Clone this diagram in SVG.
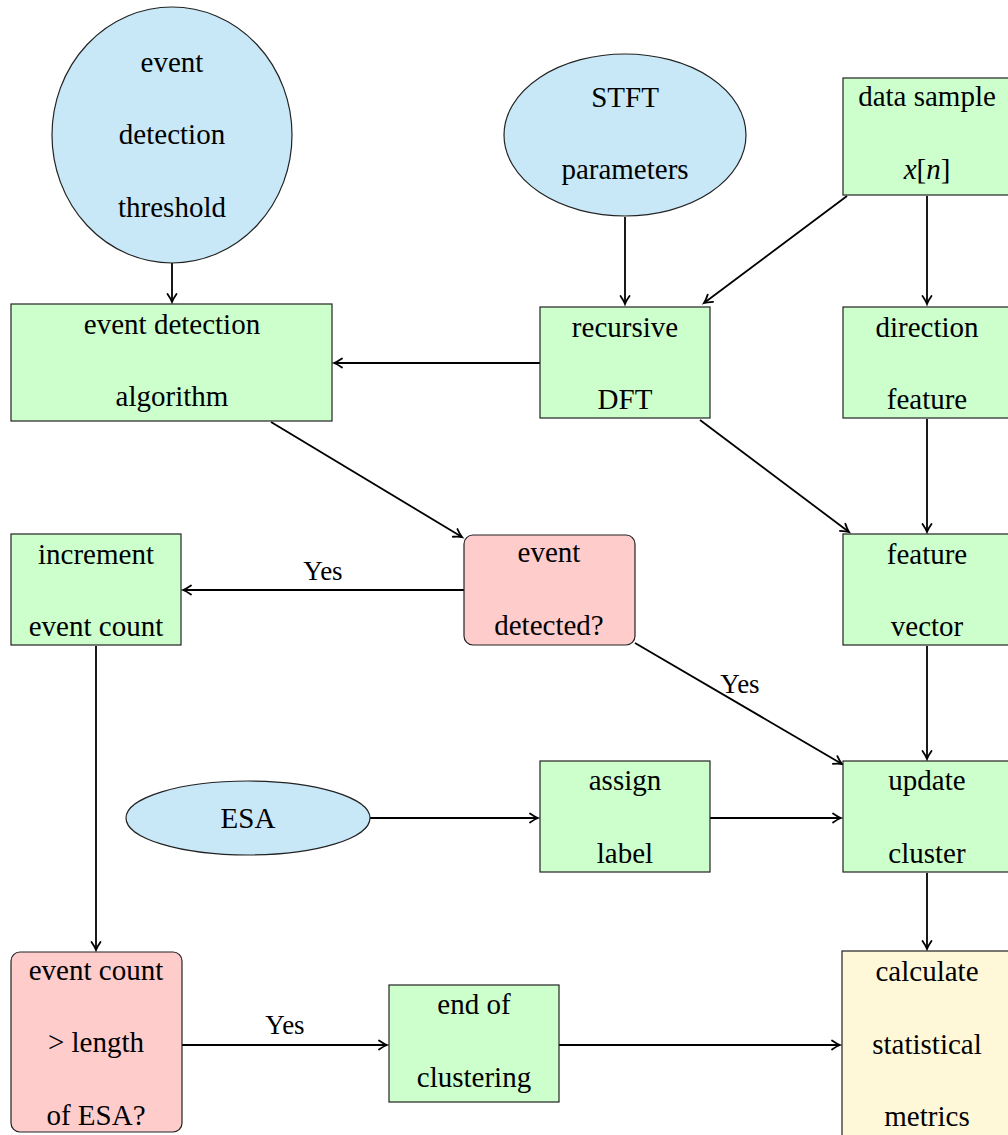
<svg xmlns="http://www.w3.org/2000/svg" width="1008" height="1135" viewBox="0 0 1008 1135" font-family="Liberation Serif, Times New Roman, serif">
  <style>
    text { fill: #000; text-anchor: middle; }
    .txt { font-size: 29px; }
    .lbl { font-size: 27px; }
    .blue { fill: #c8e8f8; stroke: #222; stroke-width: 1.2; }
    .green { fill: #ccffcc; stroke: #222; stroke-width: 1.2; }
    .red { fill: #ffcccc; stroke: #222; stroke-width: 1.2; }
    .yellow { fill: #fff8d8; stroke: #222; stroke-width: 1.2; }
    .edge { fill: none; stroke: #000; stroke-width: 1.8; marker-end: url(#arrow); }
  </style>
  <defs>
    <marker id="arrow" markerUnits="userSpaceOnUse" markerWidth="14" markerHeight="12" viewBox="-10 -6 12 12" refX="0" refY="0" orient="auto">
      <path d="M -8 -4.5 Q -3 -1 0 0 Q -3 1 -8 4.5" fill="none" stroke="#000" stroke-width="1.8" stroke-linecap="round"/>
    </marker>
  </defs>

  <rect width="1008" height="1135" fill="#fff"/>

  <!-- connectors -->
  <g id="connectors">
    <line class="edge" x1="172" y1="263" x2="172" y2="302"/>
    <line class="edge" x1="625" y1="217" x2="625" y2="304"/>
    <line class="edge" x1="847" y1="196" x2="704" y2="303"/>
    <line class="edge" x1="927" y1="196" x2="927" y2="304"/>
    <line class="edge" x1="540" y1="363" x2="334" y2="363"/>
    <line class="edge" x1="271" y1="422" x2="462" y2="537"/>
    <line class="edge" x1="464" y1="590" x2="183" y2="590"/>
    <line class="edge" x1="700" y1="420" x2="849" y2="532"/>
    <line class="edge" x1="927" y1="419" x2="927" y2="532"/>
    <line class="edge" x1="927" y1="646" x2="927" y2="759"/>
    <line class="edge" x1="635" y1="643" x2="842" y2="764"/>
    <line class="edge" x1="370" y1="818" x2="538" y2="818"/>
    <line class="edge" x1="710" y1="818" x2="841" y2="818"/>
    <line class="edge" x1="96" y1="646" x2="96" y2="950"/>
    <line class="edge" x1="182" y1="1045" x2="387" y2="1045"/>
    <line class="edge" x1="559" y1="1045" x2="840" y2="1045"/>
    <line class="edge" x1="927" y1="873" x2="927" y2="949"/>
    <text class="lbl" x="323" y="580">Yes</text>
    <text class="lbl" x="740" y="693">Yes</text>
    <text class="lbl" x="285" y="1034">Yes</text>
  </g>

  <!-- nodes -->
  <g id="threshold">
    <ellipse class="blue" cx="172" cy="135" rx="120" ry="128"/>
    <text class="txt" x="172" y="72">event</text>
    <text class="txt" x="172" y="144">detection</text>
    <text class="txt" x="172" y="217">threshold</text>
  </g>
  <g id="stft-params">
    <ellipse class="blue" cx="625" cy="135" rx="121" ry="81"/>
    <text class="txt" x="625" y="107">STFT</text>
    <text class="txt" x="625" y="179">parameters</text>
  </g>
  <g id="data-sample">
    <rect class="green" x="843" y="78" width="170" height="117"/>
    <text class="txt" x="927" y="106">data sample</text>
    <text class="txt" x="927" y="179"><tspan font-style="italic">x</tspan>[<tspan font-style="italic">n</tspan>]</text>
  </g>
  <g id="event-detection-algorithm">
    <rect class="green" x="11" y="304" width="321" height="117"/>
    <text class="txt" x="172" y="334">event detection</text>
    <text class="txt" x="172" y="406">algorithm</text>
  </g>
  <g id="recursive-dft">
    <rect class="green" x="540" y="307" width="170" height="111"/>
    <text class="txt" x="625" y="337">recursive</text>
    <text class="txt" x="625" y="409">DFT</text>
  </g>
  <g id="direction-feature">
    <rect class="green" x="843" y="307" width="170" height="111"/>
    <text class="txt" x="927" y="337">direction</text>
    <text class="txt" x="927" y="409">feature</text>
  </g>
  <g id="increment-count">
    <rect class="green" x="11" y="534" width="170" height="111"/>
    <text class="txt" x="96" y="564">increment</text>
    <text class="txt" x="96" y="636">event count</text>
  </g>
  <g id="event-detected">
    <rect class="red" x="464" y="535" width="171" height="110" rx="9"/>
    <text class="txt" x="549" y="562">event</text>
    <text class="txt" x="549" y="635">detected?</text>
  </g>
  <g id="feature-vector">
    <rect class="green" x="843" y="534" width="170" height="111"/>
    <text class="txt" x="927" y="564">feature</text>
    <text class="txt" x="927" y="636">vector</text>
  </g>
  <g id="esa">
    <ellipse class="blue" cx="248" cy="818" rx="122" ry="37"/>
    <text class="txt" x="248" y="828">ESA</text>
  </g>
  <g id="assign-label">
    <rect class="green" x="540" y="761" width="170" height="111"/>
    <text class="txt" x="625" y="790">assign</text>
    <text class="txt" x="625" y="863">label</text>
  </g>
  <g id="update-cluster">
    <rect class="green" x="843" y="761" width="170" height="111"/>
    <text class="txt" x="927" y="790">update</text>
    <text class="txt" x="927" y="863">cluster</text>
  </g>
  <g id="count-check">
    <rect class="red" x="11" y="952" width="171" height="180" rx="9"/>
    <text class="txt" x="96" y="980">event count</text>
    <text class="txt" x="96" y="1052">&gt; length</text>
    <text class="txt" x="96" y="1125">of ESA?</text>
  </g>
  <g id="end-clustering">
    <rect class="green" x="389" y="985" width="170" height="117"/>
    <text class="txt" x="474" y="1014">end of</text>
    <text class="txt" x="474" y="1087">clustering</text>
  </g>
  <g id="statistical-metrics">
    <rect class="yellow" x="842" y="951" width="175" height="200"/>
    <text class="txt" x="927" y="981">calculate</text>
    <text class="txt" x="927" y="1054">statistical</text>
    <text class="txt" x="927" y="1126">metrics</text>
  </g>
</svg>
